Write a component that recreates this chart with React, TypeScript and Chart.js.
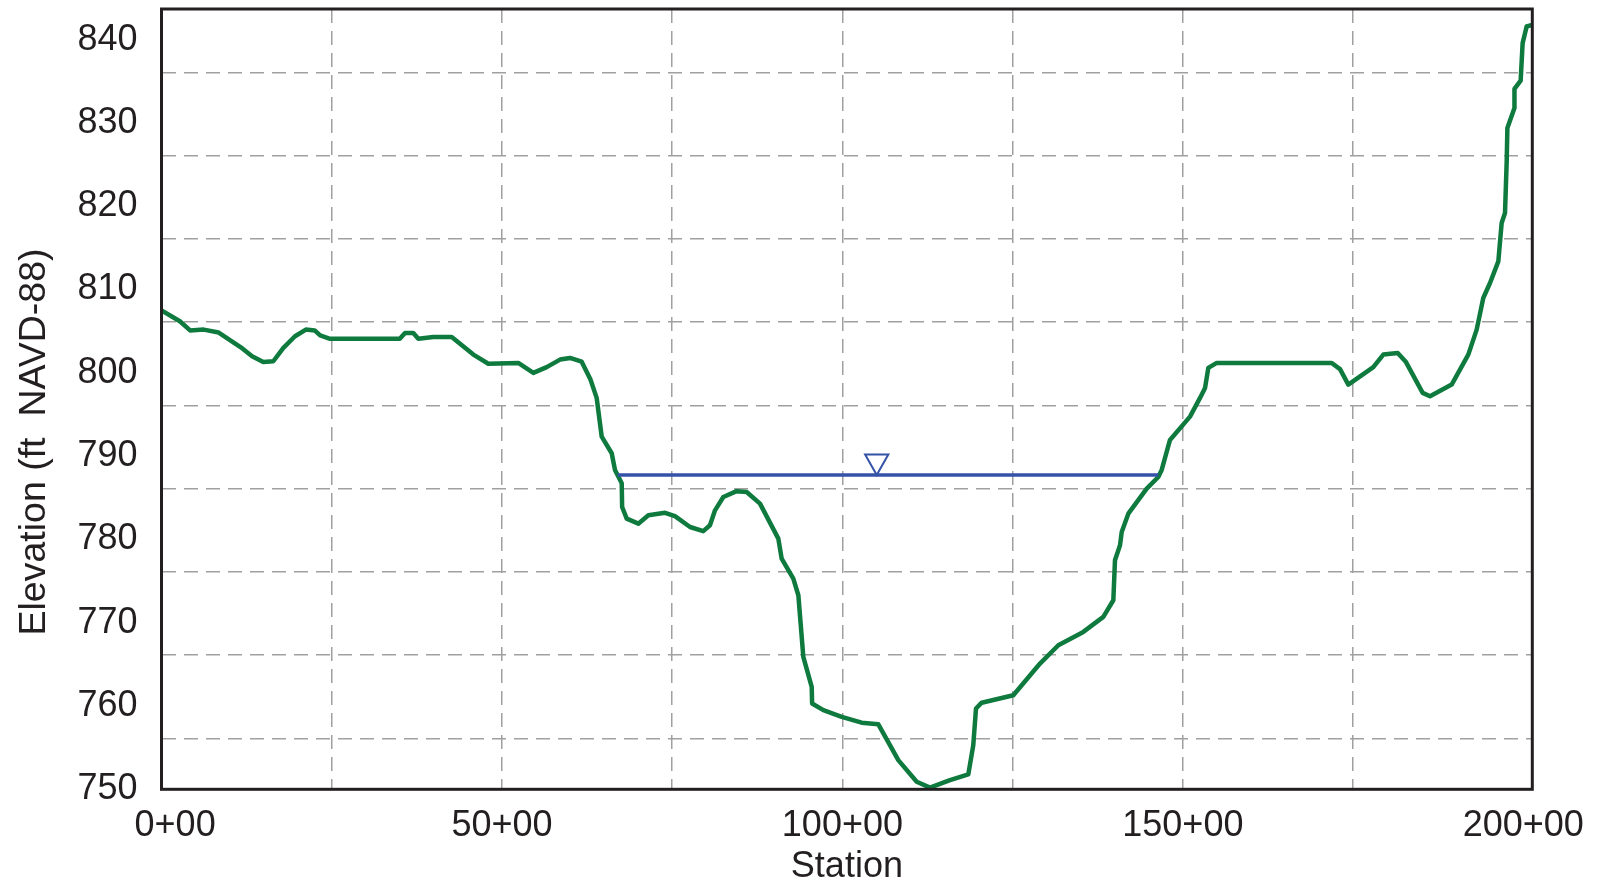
import React, { useEffect, useRef } from 'react';
import { Chart, registerables } from 'chart.js';

Chart.register(...registerables);

// Ground profile (station in ft, elevation in ft NAVD-88)
const stations = [
  0, 270, 420, 620, 840, 1160, 1330, 1495, 1642, 1790, 1961, 2120, 2250, 2330, 2475,
  3500, 3576, 3698, 3772, 3992, 4262, 4580, 4800, 5240, 5461, 5657, 5853, 5999, 6171,
  6300, 6391, 6465, 6612, 6660, 6759, 6765, 6832, 7003, 7150, 7395, 7541, 7762, 7957,
  8055, 8129, 8251, 8447, 8594, 8790, 9059, 9108, 9279, 9353, 9426, 9549, 9555, 9720,
  9990, 10283, 10528, 10821, 11091, 11286, 11580, 11849, 11922, 11962, 12046, 12510,
  12902, 13171, 13538, 13832, 13979, 14003, 14077, 14102, 14199, 14469, 14639, 14689,
  14811, 15105, 15252, 15326, 15374, 15497, 17186, 17308, 17430, 17797, 17944, 18155,
  18277, 18522, 18630, 18948, 19192, 19315, 19412, 19511, 19633, 19682, 19731, 19756,
  19766, 19870, 19870, 19961, 19990, 20049, 20132,
];
const elevations = [
  806.4, 805.1, 804.0, 804.1, 803.75, 802.0, 800.9, 800.2, 800.3, 801.9, 803.3, 804.1, 804.0, 803.4, 803.0,
  803.0, 803.7, 803.7, 803.0, 803.2, 803.2, 801.1, 800.0, 800.1, 798.9, 799.6, 800.5, 800.7, 800.25,
  798.1, 795.9, 791.25, 789.25, 787.25, 785.65, 782.8, 781.4, 780.8, 781.8, 782.1, 781.7, 780.4, 779.9,
  780.6, 782.4, 784.0, 784.7, 784.6, 783.2, 779.0, 776.6, 774.2, 772.2, 764.8, 761.2, 759.2, 758.4,
  757.6, 756.9, 756.7, 752.4, 749.8, 749.1, 750.0, 750.7, 754.2, 758.6, 759.3, 760.2,
  764.0, 766.2, 767.8, 769.6, 771.6, 776.4, 778.2, 779.8, 782.0, 785.0, 786.4, 787.25,
  790.85, 793.65, 795.9, 797.1, 799.5, 800.1, 800.1, 799.35, 797.5, 799.6, 801.1, 801.3,
  800.2, 796.5, 796.1, 797.5, 801.1, 804.1, 807.9, 809.7, 812.3, 816.9, 818.1, 824.3,
  828.3, 830.7, 833.0, 834.0, 838.5, 840.5, 840.7,
];

// Water surface
const waterStations = [6700, 14640];
const waterElevations = [786.65, 786.65];
const markerStation = 10504;
const markerElevation = 786.65;

// Axes
const xMin = 0;
const xMax = 20132;
const yMin = 748.9;
const yMax = 842.6;
const xTickValues = [0, 2500, 5000, 7500, 10000, 12500, 15000, 17500, 20000];
const xLabelValues = [0, 5000, 10000, 15000, 20000];
const xGridValues = [2500, 5000, 7500, 10000, 12500, 15000, 17500];
const yTickValues = [750, 755, 760, 765, 770, 775, 780, 785, 790, 795, 800, 805, 810, 815, 820, 825, 830, 835, 840];
const yLabelValues = [750, 760, 770, 780, 790, 800, 810, 820, 830, 840];
const yGridValues = [755, 765, 775, 785, 795, 805, 815, 825, 835];

const xTitle = 'Station';
const yTitle = 'Elevation (ft  NAVD-88)';

const FONT = '"Liberation Sans", Arial, sans-serif';
const TEXT_COLOR = '#231F20';
const GROUND_COLOR = '#0E7A3E';
const WATER_COLOR = '#3452A8';
const GRID_COLOR = '#A0A0A0';
const TRANSPARENT = 'rgba(0,0,0,0)';

const formatStation = (v: number) => {
  const hundreds = Math.floor(v / 100);
  const rest = Math.round(v % 100);
  const text = `${hundreds}+${rest < 10 ? '0' + rest : rest}`;
  // first label sits slightly right of its tick in the original
  return v === 0 ? '\u2007\u2009' + text : text;
};

const overlayPlugin = {
  id: 'overlay',
  afterDatasetsDraw(chart: any) {
    const { ctx, chartArea, scales } = chart;
    ctx.save();
    // water surface marker (inverted triangle, tip on the water line)
    const px = scales.x.getPixelForValue(markerStation);
    const py = scales.y.getPixelForValue(markerElevation);
    ctx.beginPath();
    ctx.moveTo(px, py);
    ctx.lineTo(px - 11.6, py - 20.5);
    ctx.lineTo(px + 11.6, py - 20.5);
    ctx.closePath();
    ctx.lineWidth = 2;
    ctx.strokeStyle = WATER_COLOR;
    ctx.stroke();
    // frame
    ctx.lineWidth = 3;
    ctx.strokeStyle = TEXT_COLOR;
    ctx.strokeRect(chartArea.left, chartArea.top, chartArea.right - chartArea.left, chartArea.bottom - chartArea.top);
    ctx.restore();
  },
  afterDraw(chart: any) {
    const { ctx } = chart;
    ctx.save();
    ctx.translate(35, 442);
    ctx.rotate(-Math.PI / 2);
    ctx.font = `37.5px ${FONT}`;
    ctx.fillStyle = TEXT_COLOR;
    ctx.textAlign = 'center';
    ctx.textBaseline = 'middle';
    ctx.fillText(yTitle, 0, 0);
    ctx.restore();
  },
};

export default function App() {
  const canvasRef = useRef<HTMLCanvasElement | null>(null);

  useEffect(() => {
    if (!canvasRef.current) return;
    const ground = stations.map((s, i) => ({ x: s, y: elevations[i] }));
    const water = waterStations.map((s, i) => ({ x: s, y: waterElevations[i] }));

    const chart = new Chart(canvasRef.current, {
      type: 'line',
      data: {
        datasets: [
          {
            label: 'Water surface',
            data: water,
            borderColor: WATER_COLOR,
            borderWidth: 3.5,
            pointRadius: 0,
            tension: 0,
          },
          {
            label: 'Ground',
            data: ground,
            borderColor: GROUND_COLOR,
            borderWidth: 4.5,
            pointRadius: 0,
            tension: 0,
            borderJoinStyle: 'round',
            borderCapStyle: 'round',
          },
        ],
      },
      options: {
        animation: false,
        responsive: true,
        maintainAspectRatio: false,
        layout: { padding: { top: 9, right: 65.7, left: 0, bottom: 0 } },
        plugins: { legend: { display: false }, tooltip: { enabled: false } },
        scales: {
          x: {
            type: 'linear',
            min: xMin,
            max: xMax,
            afterBuildTicks: (scale: any) => {
              scale.ticks = xTickValues.map((v) => ({ value: v }));
            },
            afterFit: (scale: any) => {
              scale.height = 93.7;
              scale.paddingLeft = 0;
              scale.paddingRight = 0;
              scale.paddingTop = 0;
              scale.paddingBottom = 0;
            },
            border: { display: false, dash: [14, 8] },
            grid: {
              drawTicks: false,
              color: (c: any) => (c.tick && xGridValues.includes(c.tick.value) ? GRID_COLOR : TRANSPARENT),
              lineWidth: 1.5,
            },
            ticks: {
              autoSkip: false,
              maxRotation: 0,
              padding: 15.5,
              color: TEXT_COLOR,
              font: { family: FONT, size: 36 },
              callback: (v: any) => (xLabelValues.includes(Number(v)) ? formatStation(Number(v)) : ''),
            },
            title: {
              display: true,
              text: xTitle,
              color: TEXT_COLOR,
              font: { family: FONT, size: 36, lineHeight: 0.9 },
              padding: { top: 0, bottom: 0 },
            },
          },
          y: {
            type: 'linear',
            min: yMin,
            max: yMax,
            afterBuildTicks: (scale: any) => {
              scale.ticks = yTickValues.map((v) => ({ value: v }));
            },
            afterFit: (scale: any) => {
              scale.width = 161.5;
              scale.paddingLeft = 0;
              scale.paddingRight = 0;
              scale.paddingTop = 0;
              scale.paddingBottom = 0;
            },
            border: { display: false, dash: [14, 8] },
            grid: {
              drawTicks: false,
              color: (c: any) => (c.tick && yGridValues.includes(c.tick.value) ? GRID_COLOR : TRANSPARENT),
              lineWidth: 1.5,
            },
            ticks: {
              autoSkip: false,
              padding: 24,
              labelOffset: 9,
              color: TEXT_COLOR,
              font: { family: FONT, size: 36 },
              callback: (v: any) => (yLabelValues.includes(Number(v)) ? String(v) : ''),
            },
          },
        },
      },
      plugins: [overlayPlugin],
    } as any);

    return () => chart.destroy();
  }, []);

  return (
    <div style={{ position: 'fixed', left: 0, top: 0, width: '1598px', height: '883px', background: '#fff' }}>
      <canvas ref={canvasRef} />
    </div>
  );
}
